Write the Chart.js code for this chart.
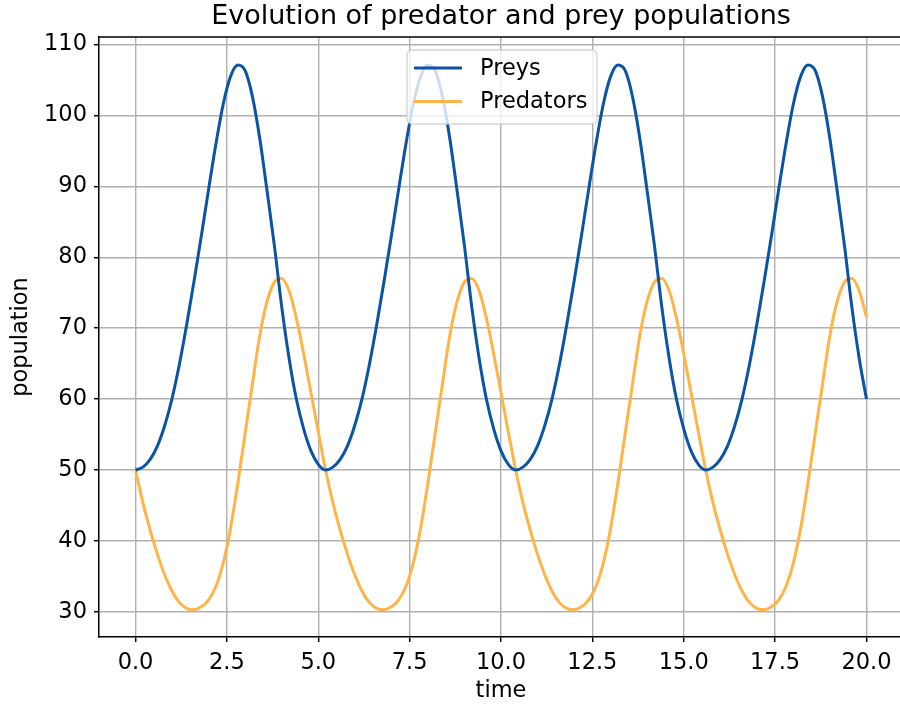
<!DOCTYPE html>
<html>
<head>
<meta charset="utf-8">
<script src="https://cdn.jsdelivr.net/npm/chart.js@4"></script>
<style>
  html, body { margin: 0; padding: 0; overflow: hidden; background: #ffffff; }
  #wrap { width: 905px; height: 709px; }
</style>
</head>
<body>
<div id="wrap"><canvas id="chart" width="905" height="709"></canvas></div>
<script>
// Time samples (every 0.2 time units)
const times = [
  0.0, 0.2, 0.4, 0.6, 0.8, 1.0, 1.2, 1.4, 1.6, 1.8, 2.0, 2.2, 2.4, 2.6, 2.8, 3.0, 3.2, 3.4, 3.6, 3.8,
  4.0, 4.2, 4.4, 4.6, 4.8, 5.0, 5.2, 5.4, 5.6, 5.8, 6.0, 6.2, 6.4, 6.6, 6.8, 7.0, 7.2, 7.4, 7.6, 7.8,
  8.0, 8.2, 8.4, 8.6, 8.8, 9.0, 9.2, 9.4, 9.6, 9.8, 10.0, 10.2, 10.4, 10.6, 10.8, 11.0, 11.2, 11.4, 11.6, 11.8,
  12.0, 12.2, 12.4, 12.6, 12.8, 13.0, 13.2, 13.4, 13.6, 13.8, 14.0, 14.2, 14.4, 14.6, 14.8, 15.0, 15.2, 15.4, 15.6, 15.8,
  16.0, 16.2, 16.4, 16.6, 16.8, 17.0, 17.2, 17.4, 17.6, 17.8, 18.0, 18.2, 18.4, 18.6, 18.8, 19.0, 19.2, 19.4, 19.6, 19.8,
  20.0
];

// Prey population
const preys = [
  50.0, 50.4, 51.5, 53.4, 56.3, 60.1, 64.9, 70.5, 76.6, 83.0, 89.6, 96.0, 101.6, 105.5, 107.1, 106.3, 102.6, 96.7, 89.3, 81.6,
  73.0, 65.8, 60.0, 55.8, 52.7, 50.8, 50.0, 50.4, 51.5, 53.4, 56.3, 60.1, 64.9, 70.5, 76.6, 83.0, 89.6, 96.0, 101.6, 105.5,
  107.1, 106.3, 102.6, 96.7, 89.3, 81.6, 73.0, 65.8, 60.0, 55.8, 52.7, 50.8, 50.0, 50.4, 51.5, 53.4, 56.3, 60.1, 64.9, 70.5,
  76.6, 83.0, 89.6, 96.0, 101.6, 105.5, 107.1, 106.3, 102.6, 96.7, 89.3, 81.6, 73.0, 65.8, 60.0, 55.8, 52.7, 50.8, 50.0, 50.4,
  51.5, 53.4, 56.3, 60.1, 64.9, 70.5, 76.6, 83.0, 89.6, 96.0, 101.6, 105.5, 107.1, 106.3, 102.6, 96.7, 89.3, 81.6, 73.0, 65.8,
  60.0
];

// Predator population
const predators = [
  50.0, 45.4, 41.5, 38.1, 35.2, 32.9, 31.3, 30.5, 30.3, 30.7, 31.7, 33.6, 36.9, 41.8, 48.2, 55.2, 62.2, 69.0, 73.8, 76.5,
  77.0, 75.3, 71.4, 66.4, 60.9, 55.4, 50.0, 45.4, 41.5, 38.1, 35.2, 32.9, 31.3, 30.5, 30.3, 30.7, 31.7, 33.6, 36.9, 41.8,
  48.2, 55.2, 62.2, 69.0, 73.8, 76.5, 77.0, 75.3, 71.4, 66.4, 60.9, 55.4, 50.0, 45.4, 41.5, 38.1, 35.2, 32.9, 31.3, 30.5,
  30.3, 30.7, 31.7, 33.6, 36.9, 41.8, 48.2, 55.2, 62.2, 69.0, 73.8, 76.5, 77.0, 75.3, 71.4, 66.4, 60.9, 55.4, 50.0, 45.4,
  41.5, 38.1, 35.2, 32.9, 31.3, 30.5, 30.3, 30.7, 31.7, 33.6, 36.9, 41.8, 48.2, 55.2, 62.2, 69.0, 73.8, 76.5, 77.0, 75.3,
  71.6
];

const seriesNames = ['Preys', 'Predators'];
const seriesColors = ['#0b54a5', '#ffb447'];
const xTicks = [0, 2.5, 5, 7.5, 10, 12.5, 15, 17.5, 20];
const yTicks = [30, 40, 50, 60, 70, 80, 90, 100, 110];
const chartTitle = 'Evolution of predator and prey populations';
const xLabel = 'time';
const yLabel = 'population';

const FONT = 'DejaVu Sans';
const TEXT_SIZE = 22.5;
const TITLE_SIZE = 27;

function toPoints(values) {
  return values.map((v, i) => ({ x: times[i], y: v }));
}

// Title, full frame and in-plot legend box
const decorations = {
  id: 'decorations',
  afterDatasetsDraw(chart) {
    const { ctx, chartArea: a } = chart;
    ctx.save();
    // frame (top and right edges)
    ctx.strokeStyle = '#000000';
    ctx.lineWidth = 1.5;
    ctx.beginPath();
    ctx.moveTo(a.left, a.top);
    ctx.lineTo(a.right, a.top);
    ctx.lineTo(a.right, a.bottom);
    ctx.stroke();

    // legend
    const bx = 407, by = 50, bw = 190, bh = 74, r = 5;
    ctx.beginPath();
    ctx.moveTo(bx + r, by);
    ctx.arcTo(bx + bw, by, bx + bw, by + bh, r);
    ctx.arcTo(bx + bw, by + bh, bx, by + bh, r);
    ctx.arcTo(bx, by + bh, bx, by, r);
    ctx.arcTo(bx, by, bx + bw, by, r);
    ctx.closePath();
    ctx.fillStyle = 'rgba(255,255,255,0.8)';
    ctx.fill();
    ctx.strokeStyle = 'rgba(204,204,204,0.8)';
    ctx.lineWidth = 1.4;
    ctx.stroke();

    ctx.font = TEXT_SIZE + 'px "' + FONT + '"';
    ctx.textBaseline = 'middle';
    ctx.textAlign = 'left';
    chart.data.datasets.forEach((ds, i) => {
      const y = 68 + i * 33.5;
      ctx.strokeStyle = ds.borderColor;
      ctx.lineWidth = 3;
      ctx.beginPath();
      ctx.moveTo(414, y);
      ctx.lineTo(462, y);
      ctx.stroke();
      ctx.fillStyle = '#000000';
      ctx.fillText(ds.label, 480, y + 1);
    });
    ctx.restore();
  },
  afterDraw(chart) {
    const { ctx, chartArea: a } = chart;
    ctx.save();
    ctx.font = TITLE_SIZE + 'px "' + FONT + '"';
    ctx.fillStyle = '#000000';
    ctx.textAlign = 'center';
    ctx.textBaseline = 'middle';
    ctx.fillText(chartTitle, (a.left + a.right) / 2, 17);
    ctx.restore();
  }
};

const tickFont = { family: FONT, size: TEXT_SIZE };

new Chart(document.getElementById('chart'), {
  type: 'line',
  data: {
    datasets: [
      { label: seriesNames[0], data: toPoints(preys), borderColor: seriesColors[0], backgroundColor: seriesColors[0] },
      { label: seriesNames[1], data: toPoints(predators), borderColor: seriesColors[1], backgroundColor: seriesColors[1] }
    ]
  },
  options: {
    responsive: false,
    animation: false,
    devicePixelRatio: 1,
    layout: { padding: { top: 37, right: 2, left: 0, bottom: 0 } },
    elements: {
      point: { radius: 0 },
      line: { borderWidth: 3, cubicInterpolationMode: 'monotone', fill: false }
    },
    plugins: {
      legend: { display: false },
      title: { display: false },
      tooltip: { enabled: false }
    },
    scales: {
      x: {
        type: 'linear',
        min: -1,
        max: 21,
        afterBuildTicks: s => { s.ticks = xTicks.map(v => ({ value: v })); },
        afterFit: s => { s.height = 72; },
        ticks: { font: tickFont, color: '#000000', padding: 8, maxRotation: 0, callback: v => Number(v).toFixed(1) },
        grid: { color: '#b0b0b0', lineWidth: 1.4, tickColor: '#000000', tickLength: 5, tickWidth: 1.5 },
        border: { color: '#000000', width: 1.5 },
        title: { display: true, text: xLabel, font: tickFont, color: '#000000', padding: { top: 0, bottom: 4 } }
      },
      y: {
        type: 'linear',
        min: 26.45,
        max: 111.05,
        afterBuildTicks: s => { s.ticks = yTicks.map(v => ({ value: v })); },
        afterFit: s => { s.width = 99; },
        ticks: { font: tickFont, color: '#000000', padding: 7, callback: v => String(v) },
        grid: { color: '#b0b0b0', lineWidth: 1.4, tickColor: '#000000', tickLength: 5, tickWidth: 1.5 },
        border: { color: '#000000', width: 1.5 },
        title: { display: true, text: yLabel, font: tickFont, color: '#000000', padding: { top: 8, bottom: 0 } }
      }
    }
  },
  plugins: [decorations]
});
</script>
</body>
</html>
